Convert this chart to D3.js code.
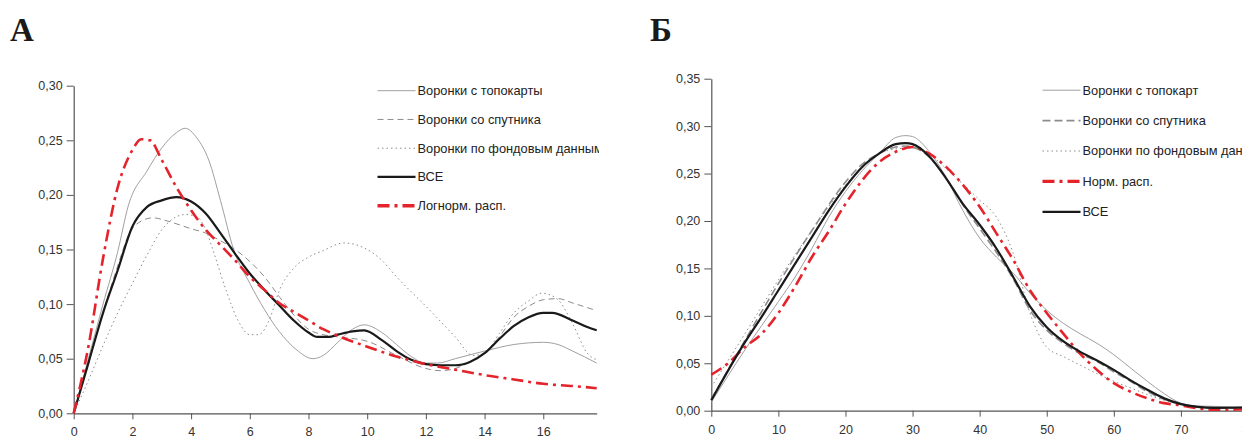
<!DOCTYPE html>
<html>
<head>
<meta charset="utf-8">
<script src="https://cdn.jsdelivr.net/npm/d3@7"></script>
<style>
  body { margin: 0; background: #fff; }
  svg { display: block; }
</style>
</head>
<body>
<div id="wrapper"></div>
<script>
// ---- data: panel A (lognormal) ----
const topoA = [[0,0],[0.5,0.05],[1,0.1],[1.5,0.148],[1.86,0.19],[2.5,0.222],[3,0.243],[3.5,0.257],[3.8,0.261],[4.2,0.252],[4.6,0.232],[5,0.195],[5.45,0.15],[6,0.119],[6.5,0.095],[7,0.075],[7.6,0.058],[8.15,0.05],[8.5,0.053],[9,0.065],[9.5,0.077],[9.9,0.081],[10.5,0.074],[11,0.063],[11.5,0.052],[12,0.046],[12.4,0.046],[13,0.05],[14,0.057],[15,0.063],[16,0.065],[16.5,0.063],[17,0.057],[17.82,0.046]];
const satA = [[0,0],[0.5,0.045],[1,0.092],[1.5,0.135],[1.9,0.165],[2.3,0.176],[2.7,0.179],[3.2,0.176],[4,0.169],[4.5,0.165],[5,0.158],[5.5,0.15],[6,0.139],[6.5,0.125],[7,0.107],[7.5,0.09],[8,0.077],[8.5,0.072],[9,0.07],[10,0.066],[11,0.053],[12,0.041],[12.5,0.039],[13,0.041],[13.5,0.047],[14,0.055],[14.5,0.07],[15,0.088],[15.5,0.098],[16,0.104],[16.5,0.105],[17,0.101],[17.82,0.094]];
const archA = [[0,0],[0.5,0.03],[1,0.062],[1.5,0.092],[2,0.119],[2.5,0.145],[3,0.168],[3.5,0.18],[3.8,0.182],[4.2,0.18],[4.5,0.168],[4.8,0.145],[5.2,0.112],[5.6,0.085],[6,0.072],[6.3,0.072],[6.7,0.088],[7,0.112],[7.5,0.133],[8,0.143],[8.5,0.149],[9.2,0.156],[10,0.15],[10.5,0.14],[11,0.125],[12,0.098],[13,0.07],[13.6,0.053],[14,0.055],[14.5,0.073],[15,0.092],[15.5,0.103],[15.95,0.11],[16.5,0.104],[17,0.082],[17.5,0.055],[17.82,0.049]];
const allA = [[0,0],[0.5,0.046],[1,0.092],[1.5,0.131],[2,0.171],[2.5,0.189],[3,0.195],[3.5,0.198],[4,0.194],[4.5,0.183],[5,0.165],[5.5,0.146],[6,0.128],[6.5,0.113],[7,0.099],[7.5,0.085],[8,0.074],[8.3,0.07],[8.7,0.07],[9,0.072],[9.5,0.075],[9.9,0.076],[10.5,0.067],[11,0.057],[11.5,0.049],[12,0.045],[12.5,0.044],[13,0.044],[13.5,0.047],[14,0.055],[14.5,0.068],[15,0.08],[15.5,0.088],[16,0.092],[16.3,0.092],[17,0.085],[17.5,0.079],[17.82,0.076]];
const lognA = [[0,0],[0.5,0.061],[1,0.142],[1.5,0.207],[2,0.241],[2.3,0.251],[2.6,0.25],[3,0.232],[3.5,0.207],[4,0.186],[4.5,0.168],[5,0.154],[5.5,0.14],[6,0.125],[6.5,0.113],[7,0.101],[7.5,0.093],[8,0.085],[8.5,0.077],[9,0.071],[10,0.061],[11,0.052],[12,0.045],[13,0.04],[14,0.035],[15,0.031],[16,0.027],[17,0.025],[17.82,0.023]];
const ticksXA = [0,2,4,6,8,10,12,14,16];
const ticksYA = [0,0.05,0.10,0.15,0.20,0.25,0.30];
const namesA = ["Воронки с топокарты","Воронки со спутника","Воронки по фондовым данным","ВСЕ","Логнорм. расп."];

// ---- data: panel Б (normal) ----
const topoB = [[0,0.009],[5,0.064],[10,0.115],[12.5,0.141],[15,0.171],[17.5,0.204],[20,0.231],[22.5,0.253],[25,0.271],[27.5,0.288],[29,0.29],[30,0.289],[32.5,0.273],[35,0.246],[37.5,0.211],[40,0.182],[42.5,0.162],[45,0.145],[47.5,0.124],[50,0.106],[52.5,0.092],[55,0.081],[57.5,0.071],[60,0.059],[62.5,0.045],[65,0.031],[67.5,0.018],[70,0.008],[72.5,0.005],[80,0.004]];
const satB = [[0,0.012],[5,0.074],[10,0.134],[15,0.19],[20,0.241],[22.5,0.26],[25,0.271],[27.5,0.278],[29,0.279],[31,0.275],[33,0.264],[35,0.245],[37.5,0.217],[40,0.192],[42.5,0.167],[45,0.139],[47.5,0.106],[50,0.085],[52.5,0.071],[55,0.06],[57.5,0.052],[60,0.041],[62.5,0.031],[65,0.02],[67.5,0.012],[70,0.007],[75,0.003],[80,0.003]];
const archB = [[0,0.025],[5,0.081],[10,0.138],[15,0.19],[20,0.238],[25,0.271],[27.5,0.276],[30,0.277],[32.5,0.271],[35,0.255],[37.5,0.239],[40,0.222],[42.5,0.204],[45,0.166],[47.5,0.103],[50,0.067],[52.5,0.057],[55,0.048],[57.5,0.039],[60,0.031],[62.5,0.024],[65,0.017],[67.5,0.011],[70,0.007],[75,0.0035],[80,0.003]];
const normB = [[0,0.038],[2.5,0.05],[5,0.067],[7.5,0.081],[10,0.103],[12.5,0.131],[15,0.162],[17.5,0.189],[20,0.218],[22.5,0.243],[25,0.262],[27.5,0.273],[30,0.278],[32.5,0.271],[35,0.257],[37.5,0.238],[40,0.215],[42.5,0.187],[45,0.159],[47.5,0.127],[50,0.103],[52.5,0.081],[55,0.06],[57.5,0.043],[60,0.029],[62.5,0.02],[65,0.013],[67.5,0.008],[70,0.0056],[72.5,0.0025],[75,0.001],[77,0.001],[80,0.002]];
const allB = [[0,0.011],[5,0.072],[7.5,0.099],[10,0.127],[12.5,0.155],[15,0.183],[17.5,0.211],[20,0.236],[22.5,0.257],[25,0.271],[27.5,0.281],[29,0.282],[30,0.281],[32.5,0.268],[35,0.245],[37.5,0.218],[40,0.196],[42.5,0.171],[45,0.141],[47.5,0.11],[50,0.088],[52.5,0.073],[55,0.062],[57.5,0.053],[60,0.043],[62.5,0.032],[65,0.022],[67.5,0.013],[70,0.007],[72.5,0.004],[75,0.003],[80,0.0035]];
const ticksXB = [0,10,20,30,40,50,60,70,80];
const ticksYB = [0,0.05,0.10,0.15,0.20,0.25,0.30,0.35];
const namesB = ["Воронки с топокарт","Воронки со спутника","Воронки по фондовым данным","Норм. расп.","ВСЕ"];

// ---- styles ----
const RED = "#e4232b";
const sty = {
  topo: {stroke: "#a0a0a0", width: 1, dash: null},
  sat:  {stroke: "#8c8c8c", width: 1, dash: "6,4"},
  arch: {stroke: "#8c8c8c", width: 1, dash: "1.5,3"},
  all:  {stroke: "#1a1a1a", width: 2.2, dash: null},
  red:  {stroke: RED, width: 2.6, dash: "12,5,3,5"}
};
const satB_sty = {stroke: "#8c8c8c", width: 1.6, dash: "8,4"};

const fmt = v => d3.format(".2f")(v).replace(".", ",");

const svg = d3.select("#wrapper").append("svg")
  .attr("width", 1242).attr("height", 436);

svg.append("defs").append("clipPath").attr("id", "clipA")
  .append("rect").attr("x", 0).attr("y", 0).attr("width", 599).attr("height", 436);

function panel(opts) {
  const g = svg.append("g").attr("clip-path", opts.clip ? `url(#${opts.clip})` : null);

  const x = d3.scaleLinear().domain(opts.xDomain).range(opts.xRange);
  const y = d3.scaleLinear().domain(opts.yDomain).range(opts.yRange);

  // title letter
  svg.append("text")
    .attr("x", opts.titleX).attr("y", 41)
    .style("font-family", "'Liberation Serif', 'Times New Roman', serif")
    .style("font-weight", "bold")
    .style("font-size", "33px")
    .style("fill", "#1a1a1a")
    .text(opts.title);

  // axes
  const yAxis = g.append("g")
    .attr("transform", `translate(${opts.xRange[0]},0)`)
    .call(d3.axisLeft(y).tickValues(opts.yTicks).tickFormat(fmt).tickSize(7).tickSizeOuter(0).tickPadding(4));
  const xAxis = g.append("g")
    .attr("transform", `translate(0,${opts.yRange[0]})`)
    .call(d3.axisBottom(x).tickValues(opts.xTicks).tickFormat(d3.format("d")).tickSize(6).tickSizeOuter(0).tickPadding(8));
  [xAxis, yAxis].forEach(a => {
    a.select(".domain").attr("stroke", "#555").attr("stroke-width", 1.2);
    a.selectAll(".tick line").attr("stroke", "#555");
    a.selectAll(".tick text")
      .style("font-family", "'Liberation Sans', Arial, sans-serif")
      .style("font-size", "12.5px")
      .style("fill", "#333");
  });

  const line = d3.line()
    .x(d => x(d[0]))
    .y(d => y(d[1]))
    .curve(d3.curveMonotoneX);

  opts.series.forEach(s => {
    g.append("path")
      .datum(s.data)
      .attr("fill", "none")
      .attr("stroke", s.style.stroke)
      .attr("stroke-width", s.style.width)
      .attr("stroke-dasharray", s.style.dash)
      .attr("stroke-linejoin", "round")
      .attr("d", line);
  });

  // legend
  const leg = g.append("g");
  opts.legendOrder.forEach((s, i) => {
    const yy = opts.legendY + i * opts.legendStep;
    leg.append("line")
      .attr("x1", opts.legendX).attr("x2", opts.legendX + opts.swatch)
      .attr("y1", yy).attr("y2", yy)
      .attr("stroke", s.style.stroke)
      .attr("stroke-width", s.style.width + (s.style === sty.red ? 0.8 : 0))
      .attr("stroke-dasharray", s.style.dash);
    leg.append("text")
      .attr("x", opts.legendX + opts.swatch + 2).attr("y", yy)
      .attr("dy", "0.35em")
      .style("font-family", "'Liberation Sans', Arial, sans-serif")
      .style("font-size", "12.8px")
      .style("fill", "#222")
      .text(s.name);
  });
}

const seriesA = [
  {data: topoA, style: sty.topo, name: namesA[0]},
  {data: satA,  style: sty.sat,  name: namesA[1]},
  {data: archA, style: sty.arch, name: namesA[2]},
  {data: allA,  style: sty.all,  name: namesA[3]},
  {data: lognA, style: sty.red,  name: namesA[4]}
];
panel({
  title: "А", titleX: 10, clip: "clipA",
  xDomain: [0, 17.82], xRange: [73.7, 596.7],
  yDomain: [0, 0.30], yRange: [413.3, 85.7],
  xTicks: ticksXA, yTicks: ticksYA,
  series: seriesA, legendOrder: seriesA,
  legendX: 377.5, legendY: 90.7, legendStep: 28.75, swatch: 38
});

const seriesB = [
  {data: topoB, style: sty.topo, name: namesB[0]},
  {data: satB,  style: satB_sty, name: namesB[1]},
  {data: archB, style: sty.arch, name: namesB[2]},
  {data: normB, style: sty.red,  name: namesB[3]},
  {data: allB,  style: sty.all,  name: namesB[4]}
];
panel({
  title: "Б", titleX: 650, clip: null,
  xDomain: [0, 80], xRange: [711.3, 1248],
  yDomain: [0, 0.35], yRange: [410.7, 78.7],
  xTicks: ticksXB, yTicks: ticksYB,
  series: seriesB, legendOrder: seriesB,
  legendX: 1042.5, legendY: 90.2, legendStep: 30.4, swatch: 38
});
</script>
</body>
</html>
